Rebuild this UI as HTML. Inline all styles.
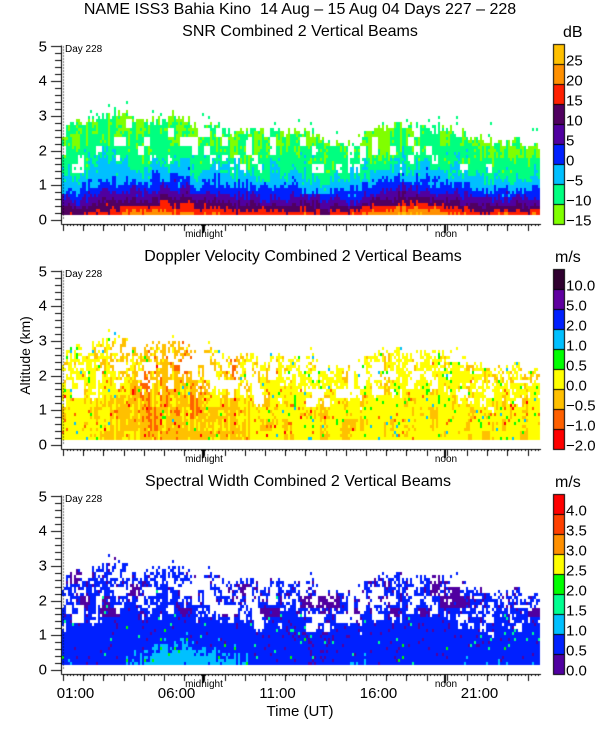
<!DOCTYPE html>
<html><head><meta charset="utf-8">
<style>
body{margin:0;background:#fff;}
#wrap{position:relative;width:600px;height:750px;overflow:hidden;font-family:"Liberation Sans",sans-serif;color:#000;}
.t{position:absolute;white-space:nowrap;font-size:15px;line-height:15px;}
canvas{position:absolute;left:0;top:0;}
</style></head>
<body>
<div id="wrap">
<canvas id="cv" width="600" height="750"></canvas>
<div class="t" style="left:300px;top:2px;transform:translateX(-50%);font-size:16px">NAME ISS3 Bahia Kino&nbsp; 14 Aug – 15 Aug 04 Days 227 – 228</div>
<div class="t" style="left:300px;top:24px;transform:translateX(-50%);font-size:16px">SNR Combined 2 Vertical Beams</div>
<div class="t" style="left:303px;top:249px;transform:translateX(-50%);font-size:16px">Doppler Velocity Combined 2 Vertical Beams</div>
<div class="t" style="left:298px;top:474px;transform:translateX(-50%);font-size:16px">Spectral Width Combined 2 Vertical Beams</div>
<div class="t" style="left:563px;top:25px;font-size:16px">dB</div>
<div class="t" style="left:555px;top:250px;font-size:16px">m/s</div>
<div class="t" style="left:555px;top:475px;font-size:16px">m/s</div>
<div class="t" style="left:-14px;top:348px;transform:rotate(-90deg);font-size:14px">Altitude (km)</div>
<div class="t" style="left:300px;top:704px;transform:translateX(-50%);font-size:15px">Time (UT)</div>
</div>
<script>
// ---- data (hourly, t = 0..24 h UT) ----
const hours=[0,1,2,3,4,5,6,7,8,9,10,11,12,13,14,15,16,17,18,19,20,21,22,23,24];
const echoTopKm=[2.7,2.7,2.9,3.1,2.9,2.8,3.0,2.7,2.6,2.5,2.6,2.5,2.5,2.4,2.2,2.3,2.6,2.7,2.6,2.6,2.5,2.3,2.2,2.2,2.1];
const snrSurfaceDb=[8,8,10,14,16,17,16,14,15,13,12,12,12,11,11,12,18,20,19,16,13,12,12,12,12];
const dopplerMean=[-0.05,-0.05,-0.15,-0.3,-0.45,-0.5,-0.5,-0.45,-0.4,-0.3,-0.2,-0.15,-0.1,-0.1,-0.1,-0.1,-0.1,-0.1,-0.15,-0.15,-0.15,-0.1,-0.1,-0.1,-0.1];
const widthSurface=[0.9,0.9,0.8,0.9,1.1,1.3,1.4,1.4,1.2,1.1,0.9,0.8,0.7,0.7,0.7,1.0,0.9,0.8,0.8,0.9,0.9,1.0,0.9,0.9,0.9];
const yTicks=[0,1,2,3,4,5];
const xTickLabels=["01:00","06:00","11:00","16:00","21:00"];
const xTickHours=[1,6,11,16,21];
const snrBounds=[-20,-15,-10,-5,0,5,10,15,20,25];
const snrLabels=["25","20","15","10","5","0","−5","−10","−15"];
const snrColors=["#80ff00","#00ff80","#00c0ff","#0020ff","#5000a0","#500060","#ff2000","#ff9000","#ffc000"];
const dopBounds=[-9,-1.5,-0.75,-0.3,0.35,0.75,1.5,3,7,99];
const dopLabels=["10.0","5.0","2.0","1.0","0.5","0.0","−0.5","−1.0","−2.0"];
const dopColors=["#ff0000","#ff6000","#ffc000","#ffff00","#00ff00","#00c0ff","#0020ff","#6000a0","#300030"];
const widBounds=[-9,0.5,1.0,1.5,2.0,2.5,3.0,3.5,4.0,99];
const widLabels=["4.0","3.5","3.0","2.5","2.0","1.5","1.0","0.5","0.0"];
const widColors=["#5000a0","#0020ff","#00c0ff","#00ff90","#00ff00","#ffff00","#ff9000","#ff4000","#ff0000"];

// ---- geometry ----
const X0=55.3, PXH=20.2, AXL=61, DATA_L=62, DATA_R=540;
const panels=[{y0:220},{y0:445},{y0:670}];
const PXKM=34.7;
const xOf=t=>X0+PXH*t;
const yOf=(p,h)=>panels[p].y0-h*PXKM;
const interp=(arr,t)=>{const i=Math.max(0,Math.min(23,Math.floor(t)));const f=t-i;return arr[i]*(1-f)+arr[i+1]*f;};
// deterministic texture noise (visual speckle only)
function hn(a,b,s){let n=Math.sin(a*127.1+b*311.7+s*74.7)*43758.5453;return n-Math.floor(n);}
function pick(b,c,v){for(let i=0;i<c.length;i++){if(v<b[i+1])return c[i];}return c[c.length-1];}

const cv=document.getElementById('cv');const g=cv.getContext('2d');
g.fillStyle='#fff';g.fillRect(0,0,600,750);
const CW=2,CH=3;
for(let x=DATA_L;x<DATA_R;x+=CW){
  const t=(x-X0)/PXH;const ci=Math.round(x);
  const top=interp(echoTopKm,t), sfc=interp(snrSurfaceDb,t), dm=interp(dopplerMean,t), ws=interp(widthSurface,t);
  const colN=hn(ci,0,1)-0.5, colN2=hn(ci,0,2)-0.5;
  const topJ=top+colN*0.3;
  for(let dy=5;dy<175;dy+=CH){
    const h=dy/PXKM;
    const r=dy;
    const n1=hn(ci,r,3)-0.5,n2=hn(ci,r,4)-0.5;
    const blk=hn(Math.floor(ci/10),Math.floor(dy/12),5)-0.5;
    const blk2=hn(Math.floor(ci/6),Math.floor(dy/9),6)-0.5;
    let snr=null;
    if(h<topJ){
      const f=(topJ-h)/(topJ-0.15);
      snr=-15+(sfc+15)*Math.pow(f,2.6)+n1*2.5+colN2*4+blk*4;
      if(snr<-11&&blk2>0.33&&h>1.3)snr=null;
    } else if(h<topJ+0.4&&n1>0.48){snr=-14;}
    for(let p=0;p<3;p++){
      const yy=panels[p].y0-dy;
      if(snr===null)continue;
      let col;
      if(p===0){col=pick(snrBounds,snrColors,snr);}
      else {
        if(snr<-9&&blk2>0.28)continue;
        if(snr<-13&&n2>0.1)continue;
        if(p===1){
          const v=dm+colN*0.5+blk*0.5+n1*0.3+(n2>0.47?-1.2:0)+(n2<-0.48?0.9:0);
          col=pick(dopBounds,dopColors,v);
        } else {
          const f=Math.max(0,1-h/topJ);
          const v=0.62+(ws-0.62)*Math.pow(f,3)+colN2*0.25+n1*0.2+(n2>0.48?1.2:0)+(n2<-0.46?-0.35:0)+(h>1.5&&blk>0.35?-0.3:0);
          col=pick(widBounds,widColors,v);
        }
      }
      g.fillStyle=col;g.fillRect(x,yy-CH,CW,CH);
    }
  }
}
// ---- axes ----
g.strokeStyle='#000';g.fillStyle='#000';g.lineWidth=1;
const wrap=document.getElementById('wrap');
function addText(txt,x,y,name,align,size){
  const d=document.createElement('div');d.className='t';d.textContent=txt;
  d.style.left=x+'px';d.style.top=y+'px';if(size)d.style.fontSize=size+'px';
  if(align==='r')d.style.transform='translate(-100%,-50%)';
  else if(align==='c')d.style.transform='translateX(-50%)';
  else if(align==='lm')d.style.transform='translateY(-50%)';
  
  
  wrap.appendChild(d);
}
panels.forEach((P,p)=>{
  const yb=P.y0+4;
  g.beginPath();g.moveTo(AXL+0.5,yOf(p,5)-1);g.lineTo(AXL+0.5,yb+0.5);g.lineTo(DATA_R+1,yb+0.5);g.stroke();
  for(let h=0;h<=5.001;h+=0.2){const y=Math.round(yOf(p,h))+0.5;const maj=Math.abs(h-Math.round(h))<0.01;g.beginPath();g.moveTo(AXL-(maj?10:6),y);g.lineTo(AXL,y);g.stroke();}
  yTicks.forEach(v=>addText(String(v),47,yOf(p,v),'y-tick-label-'+v,'r',15));
  for(let y=yOf(p,5);y<P.y0;y+=3){g.fillRect(63,y,1,1);}
  addText('Day 228',65,yOf(p,5)-5,'day-228-label',null,10);
  for(let t=0.4;t<=24;t+=1/6){const x=Math.round(xOf(t))+0.5;g.beginPath();g.moveTo(x,yb);g.lineTo(x,yb+2);g.stroke();}
  for(let k=0;k<24;k++){const x=Math.round(63+PXH*k)+0.5;g.beginPath();g.moveTo(x,yb);g.lineTo(x,yb+7);g.stroke();}
  g.fillRect(202,yb,2,9);g.fillRect(444,yb,2,9);
  addText('midnight',204,yb+3,'midnight-label','c',10);
  addText('noon',446,yb+3,'noon-label','c',10);
});
xTickHours.forEach((hh,i)=>addText(xTickLabels[i],xOf(hh),686,'x-tick-label-'+xTickLabels[i],'c',15));
// ---- colorbars ----
const cbs=[{top:44,colors:snrColors,labels:snrLabels,n:'snr'},{top:269,colors:dopColors,labels:dopLabels,n:'doppler'},{top:494,colors:widColors,labels:widLabels,n:'width'}];
cbs.forEach(cb=>{
  for(let i=0;i<9;i++){g.fillStyle=cb.colors[8-i];g.fillRect(553,cb.top+i*20,11,20);}
  g.strokeStyle='#000';g.strokeRect(553.5,cb.top+0.5,11,180);
  for(let i=0;i<9;i++){g.beginPath();g.moveTo(553,cb.top+i*20+0.5);g.lineTo(564,cb.top+i*20+0.5);g.stroke();}
  cb.labels.forEach((l,i)=>addText(l,566,cb.top+(i+1)*20-3,cb.n+'-colorbar-label','lm',15));
});
</script>
</body></html>
